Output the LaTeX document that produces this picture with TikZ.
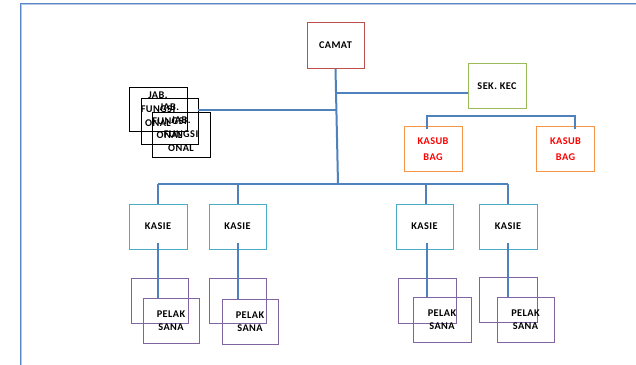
\documentclass[tikz,border=0pt]{standalone}
\usepackage{fontspec}
\setmainfont{Carlito}[BoldFont={Carlito Bold},LetterSpace=4]
\usetikzlibrary{calc}
\definecolor{camatc}{HTML}{C0504D}
\definecolor{sekc}{HTML}{9BBB59}
\definecolor{kasubc}{HTML}{F79646}
\definecolor{kasiec}{HTML}{4BACC6}
\definecolor{pelakc}{HTML}{8064A2}
\definecolor{linec}{HTML}{4F81BD}
\definecolor{framec}{HTML}{5B86C5}
\definecolor{framel}{HTML}{B4C8E6}
\begin{document}
\begin{tikzpicture}[x=1pt,y=-1pt,
  box/.style={draw,line width=0.9pt,minimum width=58pt,minimum height=45pt,inner sep=0pt,align=center,font=\fontsize{10.3}{14}\selectfont\bfseries},
  camatbox/.style={box,draw=camatc,minimum width=57pt,minimum height=46pt},
  sekbox/.style={box,draw=sekc},
  kasubbox/.style={box,draw=kasubc,text=red,font=\fontsize{10.3}{16}\selectfont\bfseries},
  kasiebox/.style={box,draw=kasiec},
  pelakbox/.style={box,draw=pelakc,font=\fontsize{10.3}{13.5}\selectfont\bfseries},
  jabbox/.style={box,draw=black},
  conn/.style={draw=linec,line width=2pt}]
\useasboundingbox (0,0) rectangle (636,364);
% frame
\draw[framec,line width=2.2pt] (21,366) -- (21,4) -- (638,4);
\draw[framel,line width=0.6pt] (21,366) -- (21,4) -- (638,4);

% top nodes
\node[camatbox] (camat) at (335.5,45.5) {CAMAT};
\node[sekbox] (sek) at (497,86) {SEK. KEC};
\node[kasubbox] (kasub1) at (433,149) {KASUB\\BAG};
\node[kasubbox] (kasub2) at (565.5,149) {KASUB\\BAG};

% jab fungsional
\node[jabbox,minimum height=44pt] (jab1) at (158,109) {JAB.\\FUNGSI\\ONAL};
\node[jabbox,minimum width=57pt,minimum height=46pt] (jab2) at (169.5,121) {JAB.\\FUNGSI\\ONAL};
\node[jabbox] (jab3) at (181,134.5) {JAB.\\FUNGSI\\ONAL};

% kasie
\node[kasiebox] (kasie1) at (158,226.5) {KASIE};
\node[kasiebox,minimum width=57pt] (kasie2) at (237.5,226.5) {KASIE};
\node[kasiebox,minimum width=57pt] (kasie3) at (424.5,226.5) {KASIE};
\node[kasiebox] (kasie4) at (508,226.5) {KASIE};

% pelaksana
\node[pelakbox,minimum width=57pt] (pb1) at (159.5,300.5) {};
\node[pelakbox,minimum width=56pt] (pf1) at (171,320.5) {PELAK\\SANA};
\node[pelakbox,minimum width=57pt] (pb2) at (237.5,300.5) {};
\node[pelakbox,minimum width=56pt] (pf2) at (250,321.5) {PELAK\\SANA};
\node[pelakbox] (pb3) at (427,300.5) {};
\node[pelakbox] (pf3) at (442,319.5) {PELAK\\SANA};
\node[pelakbox] (pb4) at (508,300) {};
\node[pelakbox,minimum width=57pt] (pf4) at (525.5,319.5) {PELAK\\SANA};

% junctions
\coordinate (tsek) at (336.5,93);
\coordinate (tjab) at (337,110);
\coordinate (tbot) at (338,184);
\coordinate (kl) at (427,116);
\coordinate (kr) at (575,116);
\coordinate (b1) at (158,184);
\coordinate (b2) at (238,184);
\coordinate (b3) at (426,184);
\coordinate (b4) at (508,184);

% connectors
\draw[conn] (camat.south) -- (tbot);
\draw[conn] (tsek) -- (sek.west |- tsek);
\draw[conn] (tjab) -- (jab2.east |- tjab);
\draw[conn] ($(kl |- kasub1.north)+(0,3)$) -- (kl) -- (kr) -- ($(kr |- kasub2.north)+(0,3)$);
\draw[conn] (b1) -- (b4);
\draw[conn] (b1) -- (kasie1.north);
\draw[conn] (b2) -- (kasie2.north -| b2);
\draw[conn] (b3) -- (kasie3.north -| b3);
\draw[conn] (b4) -- (kasie4.north);
\draw[conn] ($(kasie1.south)+(0,-6)$) -- (pf1.north -| kasie1.south);
\draw[conn] ($(kasie2.south -| b2)+(0,-6)$) -- (pf2.north -| b2);
\draw[conn] ($(kasie3.south)+(2.5,-6)$) -- ($(pf3.north -| kasie3.south)+(2.5,0)$);
\draw[conn] ($(kasie4.south)+(0,-6)$) -- (pf4.north -| kasie4.south);
\end{tikzpicture}
\end{document}
